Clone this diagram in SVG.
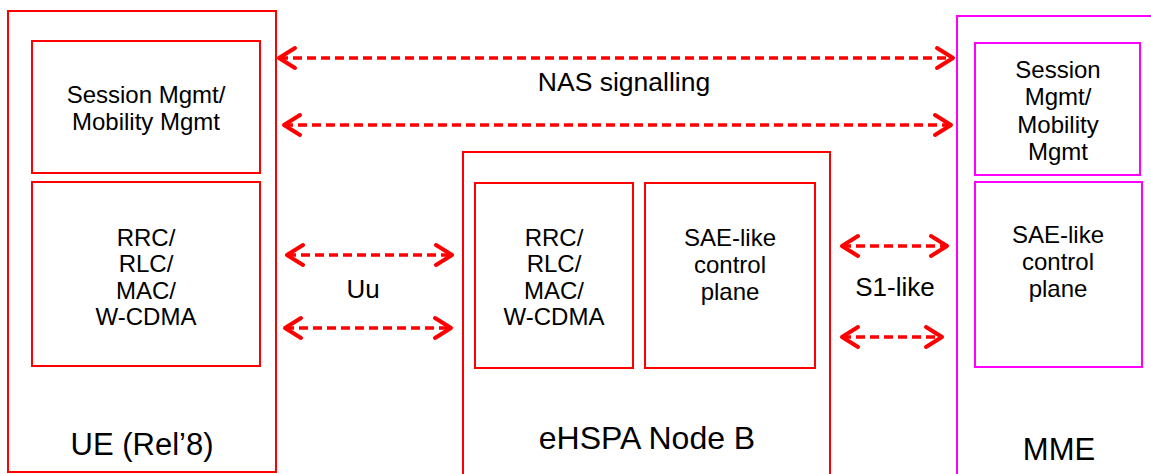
<svg xmlns="http://www.w3.org/2000/svg" width="1151" height="474" viewBox="0 0 1151 474">
<style>
.r{fill:none;stroke:#ff0000;stroke-width:2}
.m{fill:none;stroke:#ff00ff;stroke-width:2}
.t{font-family:"Liberation Sans",Arial,sans-serif;font-size:24px;fill:#000;text-anchor:middle}
.big{font-family:"Liberation Sans",Arial,sans-serif;font-size:31px;fill:#000;text-anchor:middle}
.lbl{font-family:"Liberation Sans",Arial,sans-serif;font-size:26px;fill:#000;text-anchor:middle}
.a{fill:none;stroke:#ff0000;stroke-width:3.5;stroke-dasharray:9 5;marker-start:url(#chev);marker-end:url(#chev)}
</style>
<defs>
<marker id="chev" viewBox="-20 -13 24 26" refX="0" refY="0" markerWidth="24" markerHeight="26" markerUnits="userSpaceOnUse" orient="auto-start-reverse">
<path d="M-16,-10 L0,0 L-16,10" fill="none" stroke="#ff0000" stroke-width="4" stroke-linecap="round" stroke-linejoin="round"/>
</marker>
</defs>
<rect width="1151" height="474" fill="#fff"/>
<g id="ue">
<rect class="r" x="8" y="11" width="268" height="461"/>
<text class="big" x="142" y="455">UE (Rel’8)</text>
</g>
<g id="ue-sm">
<rect class="r" x="32" y="41" width="228" height="132"/>
<text class="t" x="146" y="103">Session Mgmt/</text>
<text class="t" x="146" y="130">Mobility Mgmt</text>
</g>
<g id="ue-rrc">
<rect class="r" x="32" y="182" width="228" height="184"/>
<text class="t" x="146" y="246">RRC/</text>
<text class="t" x="146" y="272">RLC/</text>
<text class="t" x="146" y="299">MAC/</text>
<text class="t" x="146" y="325">W-CDMA</text>
</g>
<g id="nodeb">
<rect class="r" x="463" y="152" width="367" height="330"/>
<text class="big" x="647" y="449" style="font-size:32px">eHSPA Node B</text>
</g>
<g id="nodeb-rrc">
<rect class="r" x="475" y="183" width="158" height="185"/>
<text class="t" x="554" y="246">RRC/</text>
<text class="t" x="554" y="272">RLC/</text>
<text class="t" x="554" y="299">MAC/</text>
<text class="t" x="554" y="325">W-CDMA</text>
</g>
<g id="nodeb-sae">
<rect class="r" x="645" y="183" width="170" height="185"/>
<text class="t" x="730" y="246">SAE-like</text>
<text class="t" x="730" y="273">control</text>
<text class="t" x="730" y="300">plane</text>
</g>
<g id="mme">
<rect class="m" x="957" y="16" width="210" height="470"/>
<text class="big" x="1059" y="460">MME</text>
</g>
<g id="mme-sm">
<rect class="m" x="975" y="43" width="165" height="132"/>
<text class="t" x="1058" y="78">Session</text>
<text class="t" x="1058" y="105">Mgmt/</text>
<text class="t" x="1058" y="133">Mobility</text>
<text class="t" x="1058" y="160">Mgmt</text>
</g>
<g id="mme-sae">
<rect class="m" x="975" y="182" width="167" height="185"/>
<text class="t" x="1058" y="243">SAE-like</text>
<text class="t" x="1058" y="270">control</text>
<text class="t" x="1058" y="297">plane</text>
</g>
<g id="connectors">
<line class="a" x1="279" y1="58" x2="953" y2="58"/>
<line class="a" x1="284" y1="125" x2="951" y2="125"/>
<line class="a" x1="287" y1="255" x2="452" y2="255"/>
<line class="a" x1="285" y1="328" x2="451" y2="328"/>
<line class="a" x1="842" y1="246" x2="947" y2="246"/>
<line class="a" x1="842" y1="337" x2="942" y2="337"/>
<text class="lbl" x="624" y="91" style="font-size:26.5px">NAS signalling</text>
<text class="lbl" x="363" y="298">Uu</text>
<text class="lbl" x="895" y="296">S1-like</text>
</g>
</svg>
